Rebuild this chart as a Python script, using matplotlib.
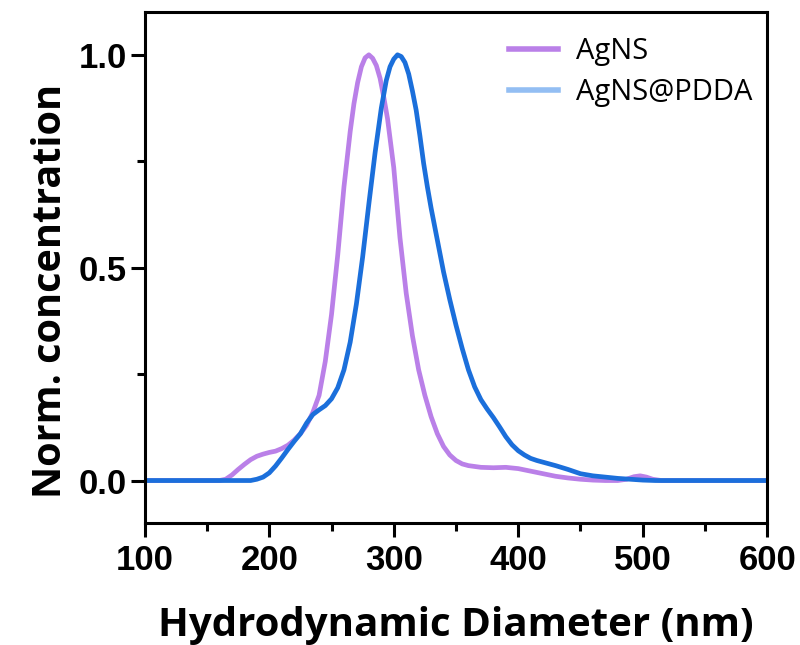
import numpy as np
import matplotlib.pyplot as plt
from matplotlib.lines import Line2D
from matplotlib.ticker import MultipleLocator

# hydrodynamic diameter (nm) and normalised concentration
x_agns = [100, 160, 165, 170, 175, 180, 185, 190, 195, 200, 205, 210, 215, 220, 225,
          230, 235, 240, 245, 250, 255, 260, 265, 268, 271, 274, 277, 280, 283, 286,
          289, 292, 295, 300, 305, 310, 315, 320, 325, 330, 335, 340, 345, 350, 355,
          360, 370, 380, 390, 400, 410, 420, 430, 440, 450, 460, 470, 480, 487, 493,
          498, 503, 508, 515, 600]
y_agns = [0, 0, 0.003, 0.013, 0.026, 0.038, 0.049, 0.057, 0.062, 0.066, 0.069, 0.075,
          0.083, 0.095, 0.110, 0.13, 0.16, 0.20, 0.28, 0.39, 0.53, 0.69, 0.82, 0.885,
          0.935, 0.972, 0.993, 1.0, 0.992, 0.975, 0.945, 0.90, 0.85, 0.735, 0.57,
          0.44, 0.34, 0.26, 0.20, 0.15, 0.11, 0.08, 0.06, 0.047, 0.039, 0.035, 0.031,
          0.030, 0.031, 0.028, 0.022, 0.016, 0.010, 0.006, 0.003, 0.001, 0, 0, 0.003,
          0.009, 0.011, 0.008, 0.003, 0, 0]

x_pdda = [100, 185, 190, 195, 200, 205, 210, 215, 220, 225, 230, 235, 240, 245, 250,
          255, 260, 265, 270, 275, 280, 285, 290, 294, 297, 300, 303, 306, 309, 312,
          315, 318, 321, 324, 327, 330, 335, 340, 345, 350, 355, 360, 365, 370, 375,
          380, 385, 390, 395, 400, 405, 410, 415, 420, 430, 440, 450, 460, 470, 480,
          490, 500, 510, 600]
y_pdda = [0, 0, 0.003, 0.008, 0.018, 0.034, 0.053, 0.073, 0.092, 0.11, 0.135, 0.155,
          0.166, 0.176, 0.192, 0.218, 0.26, 0.325, 0.415, 0.525, 0.65, 0.77, 0.875,
          0.94, 0.972, 0.99, 1.0, 0.996, 0.982, 0.955, 0.915, 0.87, 0.81, 0.745,
          0.69, 0.64, 0.565, 0.49, 0.425, 0.365, 0.31, 0.26, 0.22, 0.19, 0.168, 0.148,
          0.126, 0.103, 0.084, 0.07, 0.06, 0.052, 0.047, 0.043, 0.035, 0.026, 0.016,
          0.011, 0.008, 0.005, 0.003, 0.001, 0, 0]

labels = ["AgNS", "AgNS@PDDA"]
line_colors = ["#BA80E8", "#1B6FDB"]
legend_colors = ["#BA80E8", "#93BEF3"]

fig = plt.figure(figsize=(8, 6.45), dpi=100)
ax = fig.add_axes([0.181, 0.189, 0.778, 0.792])

ax.plot(x_agns, y_agns, color=line_colors[0], lw=3.4, solid_capstyle="round",
        solid_joinstyle="round")
ax.plot(x_pdda, y_pdda, color=line_colors[1], lw=3.4, solid_capstyle="round",
        solid_joinstyle="round")

ax.set_xlim(100, 600)
ax.set_ylim(-0.1, 1.1)
ax.xaxis.set_major_locator(MultipleLocator(100))
ax.xaxis.set_minor_locator(MultipleLocator(50))
ax.set_yticks([0, 0.5, 1.0])
ax.set_yticklabels(["0.0", "0.5", "1.0"])
ax.yaxis.set_minor_locator(MultipleLocator(0.25))

for s in ax.spines.values():
    s.set_linewidth(2.2)
ax.tick_params(which="major", direction="out", length=10, width=2.2)
ax.tick_params(which="minor", direction="out", length=6, width=2.2)
for lab in ax.get_xticklabels() + ax.get_yticklabels():
    lab.set_fontfamily("Liberation Sans")
    lab.set_fontweight("bold")
    lab.set_fontsize(25)
ax.tick_params(axis="x", pad=5)
ax.tick_params(axis="y", pad=3)

ax.set_xlabel("Hydrodynamic Diameter (nm)", fontsize=29, fontweight="bold",
              family="Open Sans", labelpad=21)
ax.set_ylabel("Norm. concentration", fontsize=28.5, fontweight="bold",
              family="Open Sans")
ax.yaxis.set_label_coords(-0.12, 0.455)

handles = [Line2D([], [], color=c, lw=4) for c in legend_colors]
ax.legend(handles, labels, loc="upper right", frameon=False,
          prop={"family": "Open Sans", "size": 21}, handlelength=1.7,
          handletextpad=0.6, labelspacing=0.42, bbox_to_anchor=(1.018, 1.003))

fig.savefig("out.png", dpi=100)
